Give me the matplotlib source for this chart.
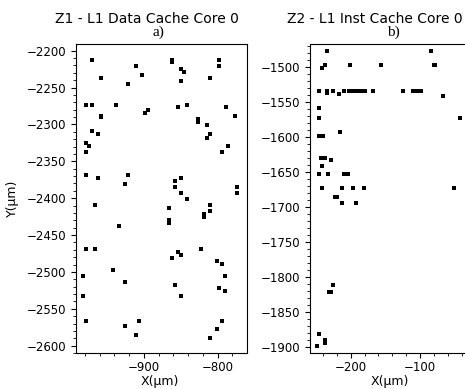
import matplotlib
matplotlib.use("Agg")
import matplotlib.pyplot as plt
from matplotlib.ticker import MultipleLocator, AutoMinorLocator

# Z1 - L1 data cache, core 0
z1_x = [-970, -910, -862, -862, -798, -798, -850, -846, -902, -958, -810, -850, -922,
        -978, -970, -938, -842, -853, -788, -894, -898, -958, -958, -777, -826, -826,
        -814, -970, -962, -810, -814, -978, -974, -978, -786, -794, -978, -962, -922,
        -926, -850, -858, -858, -850, -842, -774, -774,
        -966, -810, -866, -810, -818, -818, -866, -866, -934, -978, -966, -822, -854,
        -850, -862, -801, -794, -982, -942, -790, -926, -858, -798, -790, -982, -850,
        -978, -906, -794, -926, -801, -910, -810]
z1_y = [-2213, -2221, -2212, -2216, -2213, -2221, -2225, -2229, -2233, -2237, -2237, -2241, -2245,
        -2273, -2273, -2273, -2273, -2277, -2277, -2280, -2285, -2288, -2290, -2289, -2292, -2297,
        -2301, -2309, -2313, -2313, -2318, -2325, -2329, -2337, -2329, -2337, -2369, -2373, -2369,
        -2381, -2373, -2377, -2385, -2393, -2401, -2385, -2393,
        -2409, -2409, -2414, -2418, -2422, -2426, -2430, -2434, -2438, -2469, -2469, -2469, -2473,
        -2477, -2481, -2485, -2489, -2506, -2498, -2506, -2514, -2518, -2522, -2526, -2533, -2533,
        -2566, -2566, -2566, -2574, -2578, -2586, -2590]

# Z2 - L1 instruction cache, core 0
z2_x = [-234, -84, -242, -237, -201, -156, -80, -78,
        -246, -234, -234, -225, -217, -209, -202, -199, -196, -193, -190, -187, -184, -181, -179,
        -168, -124, -110, -107, -104, -101, -98, -67,
        -246, -246, -43, -216, -246, -243, -240, -243, -240, -237, -229, -242,
        -246, -233, -209, -206, -204, -242, -213, -197, -181, -51, -223, -220,
        -213, -192, -225, -232, -229, -246, -237, -237, -249]
z2_y = [-1477, -1477, -1501, -1497, -1497, -1497, -1497, -1497,
        -1534, -1534, -1537, -1534, -1538, -1534, -1534, -1534, -1534, -1534, -1534, -1534, -1534, -1534, -1534,
        -1534, -1534, -1534, -1534, -1534, -1534, -1534, -1541,
        -1558, -1573, -1573, -1593, -1598, -1598, -1598, -1630, -1630, -1630, -1633, -1641,
        -1653, -1653, -1653, -1653, -1653, -1673, -1673, -1673, -1673, -1673, -1686, -1686,
        -1694, -1694, -1811, -1822, -1822, -1882, -1891, -1895, -1899]

fig = plt.figure(figsize=(4.65, 3.89), dpi=100)
ax1 = fig.add_axes([0.1634, 0.0925, 0.3671, 0.7943])
ax2 = fig.add_axes([0.6667, 0.0925, 0.3484, 0.7943])

for ax, xs, ys in [(ax1, z1_x, z1_y), (ax2, z2_x, z2_y)]:
    ax.scatter(xs, ys, marker='s', s=6, color='black', linewidths=0)
    ax.yaxis.set_major_locator(MultipleLocator(50))
    ax.xaxis.set_major_locator(MultipleLocator(100))
    ax.xaxis.set_minor_locator(AutoMinorLocator(5))
    ax.yaxis.set_minor_locator(AutoMinorLocator(5))
    ax.tick_params(labelsize=8.5)
    ax.tick_params(axis='x', pad=2.5)

ax1.set_xlim(-992, -760.5)
ax1.set_ylim(-2610, -2191)
ax2.set_xlim(-258.7, -25)
ax2.set_ylim(-1909, -1467)

# titles, panel letters and axis labels
fig.text(147 / 465, 0.941, 'Z1 - L1 Data Cache Core 0', ha='center', va='baseline', fontsize=10)
fig.text(158 / 465, 0.907, 'a)', ha='center', va='baseline', fontsize=11, family='Liberation Serif')
fig.text(375 / 465, 0.941, 'Z2 - L1 Inst Cache Core 0', ha='center', va='baseline', fontsize=10)
fig.text(393 / 465, 0.907, 'b)', ha='center', va='baseline', fontsize=11, family='Liberation Serif')
fig.text(12 / 465, 0.49, 'Y(µm)', rotation=90, ha='center', va='center', fontsize=9)
fig.text(160 / 465, 4 / 389, 'X(µm)', ha='center', va='baseline', fontsize=9)
fig.text(390 / 465, 4 / 389, 'X(µm)', ha='center', va='baseline', fontsize=9)

fig.savefig('out.png', dpi=100)
